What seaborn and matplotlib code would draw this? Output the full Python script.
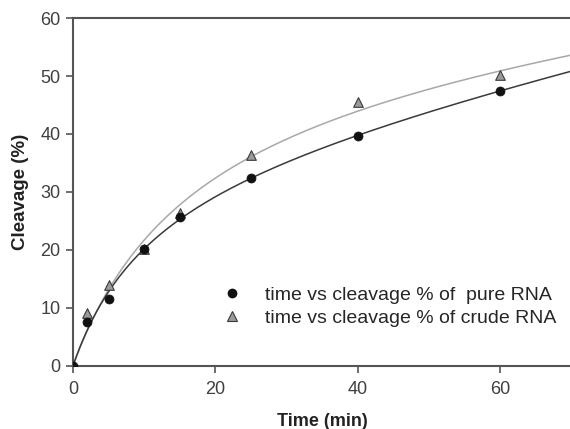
import numpy as np
import pandas as pd
import matplotlib
matplotlib.use('Agg')
import matplotlib.pyplot as plt
import seaborn as sns
from matplotlib.lines import Line2D

# data
time_min = [0, 2, 5, 10, 15, 25, 40, 60]
pure_rna = [0, 7.5, 11.6, 20.2, 25.7, 32.4, 39.6, 47.5]
crude_rna = [0, 9.1, 13.9, 20.2, 26.4, 36.4, 45.6, 50.1]

x_ticks = [0, 20, 40, 60]
y_ticks = [0, 10, 20, 30, 40, 50, 60]
label_pure = 'time vs cleavage % of  pure RNA'
label_crude = 'time vs cleavage % of crude RNA'

sns.set_style('ticks')
plt.rcParams['font.family'] = ['Liberation Sans', 'DejaVu Sans']


def fit_curve(x, y):
    # hyperbola + linear term: y = a*x/(b+x) + c*x, grid search on b
    x = np.asarray(x, float)
    y = np.asarray(y, float)
    best = None
    for b in np.linspace(0.5, 60, 600):
        A = np.column_stack([x / (b + x), x])
        coef, res, *_ = np.linalg.lstsq(A, y, rcond=None)
        err = np.sum((A @ coef - y) ** 2)
        if best is None or err < best[0]:
            best = (err, b, coef)
    _, b, (a, c) = best
    return lambda t: a * t / (b + t) + c * t


df = pd.DataFrame({'time': time_min, 'pure': pure_rna, 'crude': crude_rna})
t_fit = np.linspace(0, 72, 300)
pure_fit = fit_curve(time_min, pure_rna)(t_fit)
crude_fit = fit_curve(time_min, crude_rna)(t_fit)

fig = plt.figure(figsize=(5.7, 4.29), dpi=100)
ax = fig.add_axes([0.128, 0.147, 0.875, 0.811])

sns.lineplot(x=t_fit, y=crude_fit, ax=ax, color='#a8a8a8', lw=1.1)
sns.lineplot(x=t_fit, y=pure_fit, ax=ax, color='#3a3a3a', lw=1.1)
sns.scatterplot(data=df, x='time', y='pure', ax=ax, marker='o', s=42,
                color='#111111', edgecolor='#111111', zorder=5)
sns.scatterplot(data=df, x='time', y='crude', ax=ax, marker='^', s=48,
                color='#9a9a9a', edgecolor='#3a3a3a', linewidth=0.8, zorder=4)

ax.set_xlim(0, 70)
ax.set_ylim(0, 60)
ax.set_xticks(x_ticks)
ax.set_yticks(y_ticks)
ax.tick_params(direction='out', length=5, width=1.2, color='#555555',
               labelsize=13, labelcolor='#404040', pad=4)
ax.tick_params(axis='x', pad=6)
for side in ['left', 'top', 'bottom']:
    ax.spines[side].set_color('#555555')
    ax.spines[side].set_linewidth(1.5)
ax.spines['right'].set_visible(False)

ax.set_xlabel('Time (min)', fontsize=13, fontweight='bold', color='#222222', labelpad=11)
ax.set_ylabel('Cleavage (%)', fontsize=13.5, fontweight='bold', color='#222222', labelpad=8)

handles = [
    Line2D([], [], ls='none', marker='o', ms=6, color='#111111'),
    Line2D([], [], ls='none', marker='^', ms=6.5, markerfacecolor='#9a9a9a',
           markeredgecolor='#3a3a3a', markeredgewidth=0.8),
]
ax.legend(handles, [label_pure, label_crude], loc='upper left',
          bbox_to_anchor=(0.284, 0.252), frameon=False, fontsize=14,
          handletextpad=1.2, labelspacing=0.27, handlelength=1.0,
          borderpad=0.4, borderaxespad=0)

fig.savefig('out.png', dpi=100)
